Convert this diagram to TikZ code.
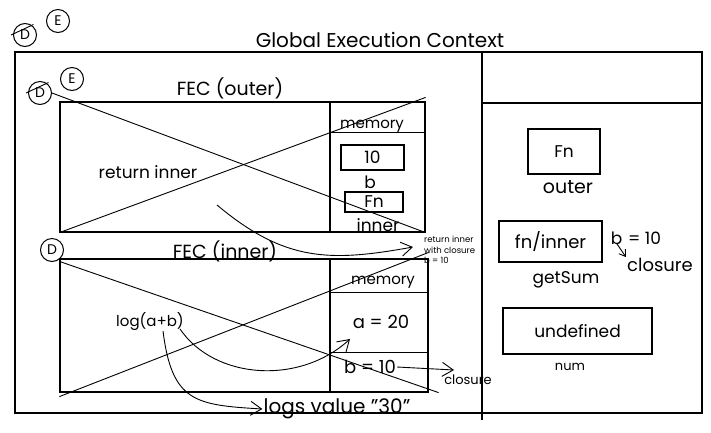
\documentclass[tikz,border=0pt]{standalone}
\usepackage{fontspec}
\setmainfont{Poppins}
\usetikzlibrary{calc,arrows.meta}

\tikzset{
  box/.style={draw, line width=1.2pt, inner sep=0pt},
  txt/.style={font=\fontsize{17}{19}\selectfont, inner sep=1pt},
  sml/.style={font=\fontsize{15}{17}\selectfont, inner sep=1pt},
  big/.style={font=\fontsize{20}{22}\selectfont, inner sep=1pt},
  tiny/.style={font=\fontsize{8.5}{10.5}\selectfont, align=left, inner sep=0pt},
  circ/.style={draw, circle, line width=1pt, inner sep=0pt, minimum size=23, font=\fontsize{14}{15}\selectfont},
  cross/.style={line width=0.9pt},
  arr/.style={-{Straight Barb[length=11pt,width=14pt]}, line width=0.9pt}
}

\begin{document}
\begin{tikzpicture}[x=1pt, y=-1pt]
  \useasboundingbox (0,0) rectangle (711,432);

  \node[box, minimum width=687, minimum height=361] (gec) at (358.5,232.5) {};
  \draw[line width=1.2pt] (482,52) coordinate (gm) -- (482,420);
  \draw[line width=1.2pt] (482,103) -- (gec.east |- 0,103);
  \node[big] (gect) at (380,40) {Global Execution Context};
  \node[circ] (d0) at (25,35) {D};
  \draw[cross] ([xshift=-2]d0.west) -- ([yshift=2]d0.north east);
  \node[circ] (e0) at (58,21) {E};

  % FEC (outer)
  \node[box, minimum width=365, minimum height=130] (outer) at (242.5,167) {};
  \node[box, minimum width=95, minimum height=130] (omem) at (377.5,167) {};
  \draw[line width=1.2pt] ([yshift=-31]omem.north west) -- ([yshift=-31]omem.north east);
  \node[txt, font=\fontsize{19}{21}\selectfont] (outert) at (230,88) {FEC (outer)};
  \node[circ] (d1) at (40,93) {D};
  \draw[cross] ([xshift=-2]d1.west) -- ([yshift=2]d1.north east);
  \node[circ] (e1) at (72,79) {E};
  \draw[cross] (d1.east) -- (outer.south east);
  \draw[cross] (outer.south west) -- ([yshift=4]outer.north east);
  \node[txt] (ret) at (148,172) {return inner};
  \node[sml] (omemt) at (372,126) {memory};
  \node[box, minimum width=63, minimum height=25, txt] (ten) at (372.5,157.5) {10};
  \node[txt] (bo) at (370,182) {b};
  \node[box, minimum width=58, minimum height=20, txt] (fno) at (374,202) {Fn};
  \node[txt] (inn) at (378,225) {inner};
  \coordinate (rs) at (217,205);
  \coordinate (rt) at (413,247);
  \draw[arr] (rs) .. controls (285,262) and (330,262) .. (rt);
  \node[tiny, anchor=west] (retc) at (424,250) {return inner\\with closure\\b = 10};

  % FEC (inner)
  \node[box, minimum width=368, minimum height=133] (inner) at (244,325.5) {};
  \node[box, minimum width=98, minimum height=133] (imem) at (379,325.5) {};
  \draw[line width=1.2pt] ([yshift=-34]imem.north west) -- ([yshift=-34]imem.north east);
  \draw[line width=1.2pt] ([yshift=-94]imem.north west) -- ([yshift=-94]imem.north east);
  \node[txt, font=\fontsize{19}{21}\selectfont] (innert) at (225,251) {FEC (inner)};
  \node[circ] (d2) at (52,250) {D};
  \draw[cross] ([yshift=-3]inner.north west) -- ([xshift=10]inner.south east);
  \draw[cross] ([yshift=-4]inner.south west) -- ([yshift=6]inner.north east);
  \node[sml] (imemt) at (383,282) {memory};
  \node[txt, font=\fontsize{18}{20}\selectfont] (a20) at (381,322) {a = 20};
  \node[txt, font=\fontsize{18}{20}\selectfont] (b10) at (370,367) {b = 10};
  \node[sml] (log) at (150,322) {log(a+b)};
  \node[big] (logs) at (337,409) {logs value \symbol{34}30\symbol{34}};
  \coordinate (l1) at (180,329);
  \coordinate (l2) at (163,331);
  \draw[arr] (l1) .. controls (215,380) and (300,385) .. (350,339);
  \draw[arr] (l2) .. controls (172,402) and (195,405) .. (logs.west);
  \node[font=\fontsize{13}{14}\selectfont, inner sep=0pt] (clo) at (468,380) {closure};
  \draw[arr] (b10.east) -- (454,370);

  % heap
  \node[box, minimum width=72, minimum height=45, txt] (fnh) at (564,151.5) {Fn};
  \node[txt, font=\fontsize{19}{21}\selectfont] (outerh) at (568,187) {outer};
  \node[box, minimum width=103, minimum height=41, font=\fontsize{18}{20}\selectfont] (fnin) at (550.5,241.5) {fn/inner};
  \node[txt] (gets) at (566,280) {getSum};
  \node[txt] (bcl) at (636,238) {b\,\,= 10};
  \node[txt, font=\fontsize{18}{20}\selectfont] (clh) at (660,265) {closure};
  \draw[-{Straight Barb[length=6pt,width=8pt]}, line width=0.9pt] (617,244) coordinate (bs) -- (clh.north west);
  \node[box, minimum width=149, minimum height=46, txt] (undef) at (577.5,331) {undefined};
  \node[font=\fontsize{13}{15}\selectfont] (num) at (570,367) {num};
\end{tikzpicture}
\end{document}
